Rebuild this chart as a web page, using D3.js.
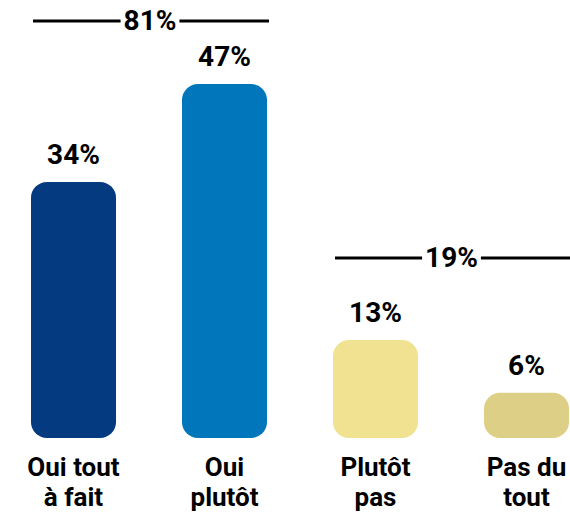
<!DOCTYPE html>
<html>
<head>
<meta charset="utf-8">
<script src="https://cdn.jsdelivr.net/npm/d3@7"></script>
<style>
  body { margin: 0; background: #fff; }
  text { font-family: Roboto, "Liberation Sans", sans-serif; font-weight: bold; fill: #000; }
</style>
</head>
<body>
<div id="chart"></div>
<script>
var categories = [["Oui tout", "à fait"], ["Oui", "plutôt"], ["Plutôt", "pas"], ["Pas du", "tout"]];
var values = [34, 47, 13, 6];
var colors = ["#033a80", "#0176bb", "#f0e290", "#ddd086"];
var groups = [{label: "81%", from: 0, to: 1}, {label: "19%", from: 2, to: 3}];

var width = 570, height = 512,
    baseline = 438,
    bracketY = [21, 258];

var x = d3.scaleBand()
    .domain(d3.range(values.length))
    .range([31, 569])
    .paddingInner(0.437)
    .paddingOuter(0);

var y = d3.scaleLinear()
    .domain([0, 47])
    .range([baseline, 84]);

var svg = d3.select("#chart").append("svg")
    .attr("width", width)
    .attr("height", height);

svg.selectAll("rect.bar")
    .data(values)
    .enter().append("rect")
    .attr("class", "bar")
    .attr("x", function(d, i) { return x(i); })
    .attr("y", function(d) { return y(d); })
    .attr("width", x.bandwidth())
    .attr("height", function(d) { return baseline - y(d); })
    .attr("rx", 16)
    .attr("fill", function(d, i) { return colors[i]; });

svg.selectAll("text.value")
    .data(values)
    .enter().append("text")
    .attr("class", "value")
    .attr("x", function(d, i) { return x(i) + x.bandwidth() / 2; })
    .attr("y", function(d) { return y(d) - 18; })
    .attr("text-anchor", "middle")
    .style("font-size", "28px")
    .text(function(d) { return d + "%"; });

var cat = svg.selectAll("text.cat")
    .data(categories)
    .enter().append("text")
    .attr("class", "cat")
    .attr("text-anchor", "middle")
    .style("font-size", "26px");

cat.selectAll("tspan")
    .data(function(d, i) { return d.map(function(t) { return {t: t, i: i}; }); })
    .enter().append("tspan")
    .attr("x", function(d) { return x(d.i) + x.bandwidth() / 2; })
    .attr("y", function(d, j) { return 476 + j * 30; })
    .text(function(d) { return d.t; });

// bracket lines with totals
groups.forEach(function(g, k) {
    var x0 = x(g.from), x1 = Math.min(x(g.to) + x.bandwidth() + 2, width);
    var top = bracketY[k];
    var cx = (x0 + x1) / 2;
    var t = svg.append("text")
        .attr("x", cx)
        .attr("y", top + 9)
        .attr("text-anchor", "middle")
        .style("font-size", "28px")
        .text(g.label);
    var w = t.node().getBBox().width / 2 + 3;
    svg.append("line").attr("x1", x0 + 2).attr("x2", cx - w).attr("y1", top).attr("y2", top)
        .attr("stroke", "#000").attr("stroke-width", 3);
    svg.append("line").attr("x1", cx + w).attr("x2", x1).attr("y1", top).attr("y2", top)
        .attr("stroke", "#000").attr("stroke-width", 3);
});
</script>
</body>
</html>
